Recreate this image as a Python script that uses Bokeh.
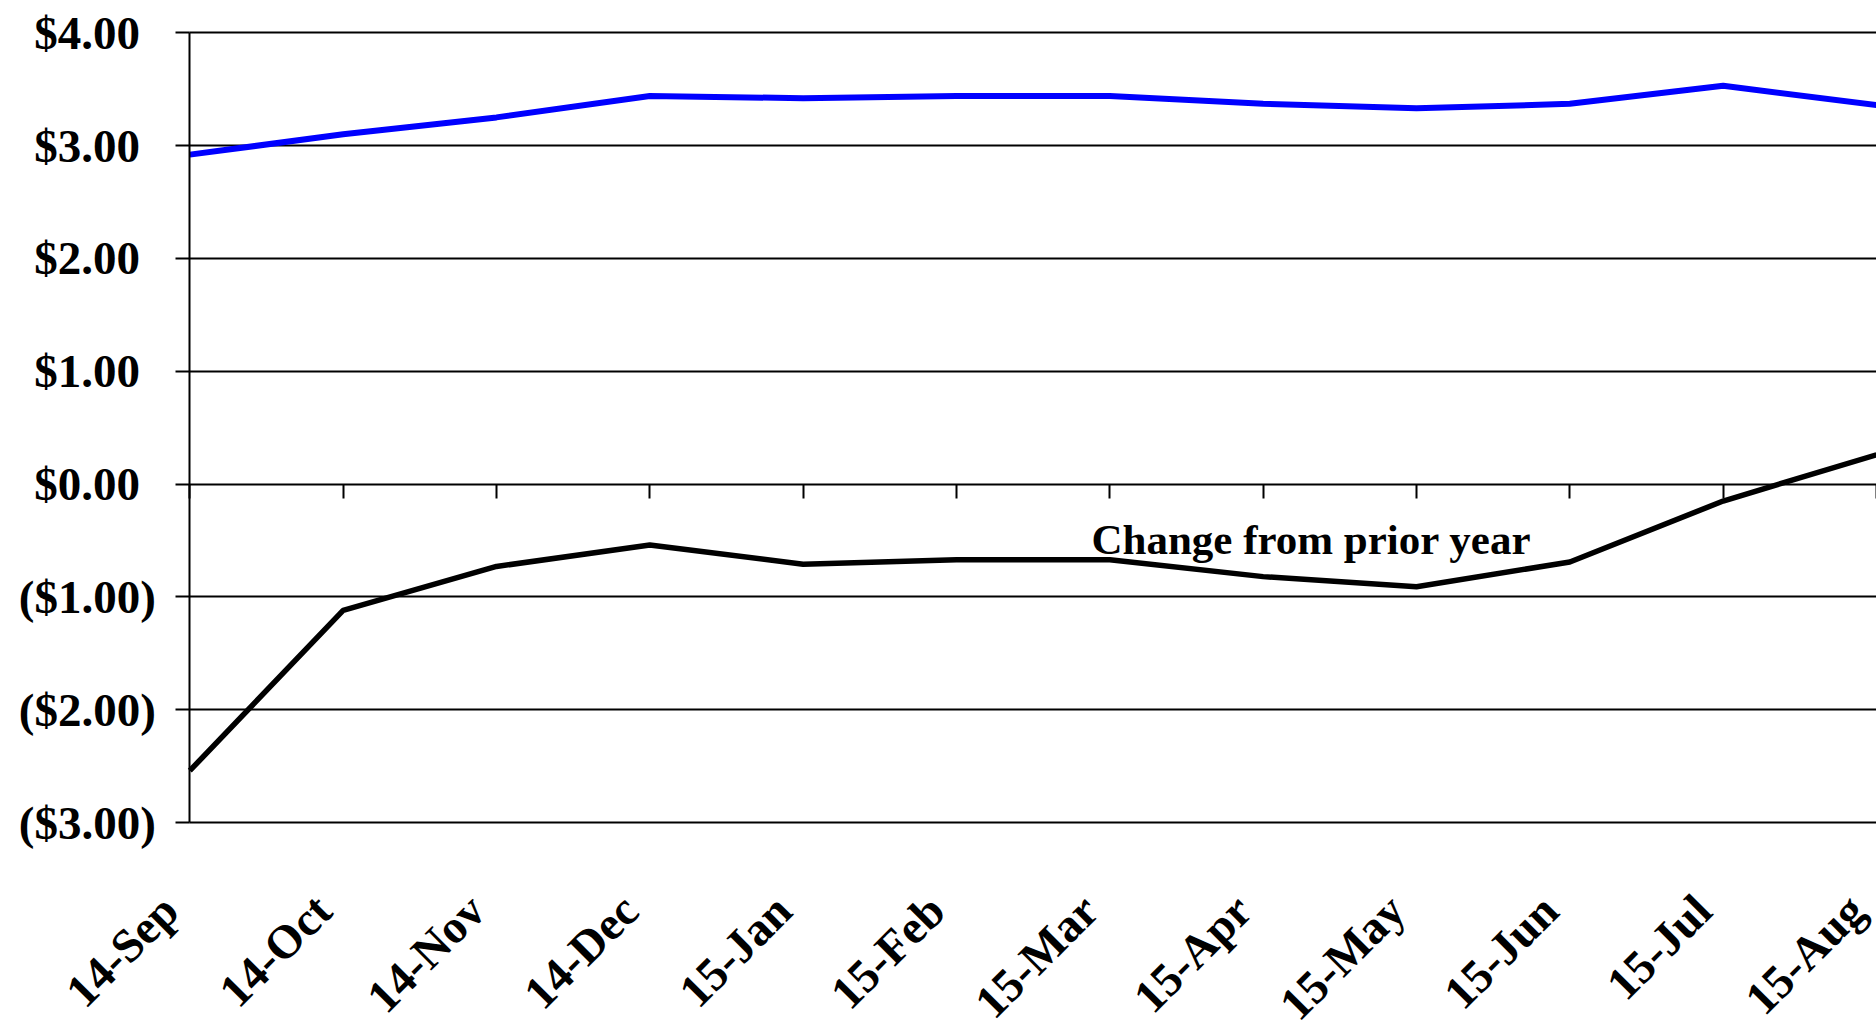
from bokeh.plotting import figure
from bokeh.models import FixedTicker, LinearAxis, Label, Range1d, Grid
from bokeh.embed import file_html
from bokeh.resources import INLINE
from math import pi

# ---- data ----
months = ["14-Sep", "14-Oct", "14-Nov", "14-Dec", "15-Jan", "15-Feb",
          "15-Mar", "15-Apr", "15-May", "15-Jun", "15-Jul", "15-Aug"]
price = [2.92, 3.10, 3.25, 3.44, 3.42, 3.44, 3.44, 3.37, 3.33, 3.37, 3.53, 3.36]
change = [-2.54, -1.12, -0.73, -0.54, -0.71, -0.67, -0.67, -0.82, -0.91, -0.69, -0.15, 0.26]
y_ticks = [-3, -2, -1, 0, 1, 2, 3, 4]
y_tick_labels = ["($3.00)", "($2.00)", "($1.00)", "$0.00\u2004", "$1.00\u2004",
                 "$2.00\u2004", "$3.00\u2004", "$4.00\u2004"]
annotation_text = "Change from prior year"

x = list(range(len(months)))
FONT = "Liberation Serif"

# view: the frame covers the whole page so that the labels of the fixed
# axes are not clipped
x_view_left = -1.2345
y_view_bottom = -4.754
y_view_top = 4.286
label_shift = -0.13   # slides the slanted month labels along their slant

p = figure(width=1876, height=1020, output_backend="svg", toolbar_location=None,
           x_range=Range1d(x_view_left, x[-1]), y_range=Range1d(y_view_bottom, y_view_top),
           x_axis_location=None, y_axis_location=None,
           min_border_left=0, min_border_top=0, min_border_bottom=0, min_border_right=0)
p.outline_line_color = None
p.background_fill_color = "white"
p.border_fill_color = "white"
for g in p.grid:
    g.visible = False

# horizontal grid lines, only across the data area
p.add_layout(Grid(dimension=1, ticker=FixedTicker(ticks=y_ticks),
                  cross_bounds=(x[0], x[-1]),
                  grid_line_color="black", grid_line_width=2))

# y axis
ya = LinearAxis(ticker=FixedTicker(ticks=y_ticks), fixed_location=x[0],
                bounds=(y_ticks[0], y_ticks[-1]))
ya.major_label_overrides = {t: l for t, l in zip(y_ticks, y_tick_labels)}
ya.major_label_text_font = FONT
ya.major_label_text_font_style = "bold"
ya.major_label_text_font_size = "47px"
ya.major_label_text_color = "black"
ya.major_label_standoff = 20
ya.major_tick_out = 14
ya.major_tick_in = 0
ya.minor_tick_line_color = None
ya.axis_line_color = "black"
ya.axis_line_width = 2
ya.major_tick_line_color = "black"
ya.major_tick_line_width = 2
p.add_layout(ya, "left")

# x axis with tick marks on the zero line
tick_axis = LinearAxis(ticker=FixedTicker(ticks=x), fixed_location=0, bounds=(x[0], x[-1]))
tick_axis.major_label_text_font_size = "0px"
tick_axis.major_label_text_alpha = 0
tick_axis.major_tick_out = 14
tick_axis.major_tick_in = 0
tick_axis.major_tick_line_color = "black"
tick_axis.major_tick_line_width = 2
tick_axis.minor_tick_line_color = None
tick_axis.axis_line_color = None
p.add_layout(tick_axis, "below")

# x axis with slanted month labels under the ($3.00) line
label_ticks = [i + label_shift for i in x]
label_axis = LinearAxis(ticker=FixedTicker(ticks=label_ticks), fixed_location=y_ticks[0])
label_axis.major_label_overrides = {t: m for t, m in zip(label_ticks, months)}
label_axis.major_label_orientation = pi / 4
label_axis.major_label_text_font = FONT
label_axis.major_label_text_font_style = "bold"
label_axis.major_label_text_font_size = "47px"
label_axis.major_label_text_color = "black"
label_axis.major_label_standoff = 80
label_axis.major_tick_out = 0
label_axis.major_tick_in = 0
label_axis.major_tick_line_color = None
label_axis.minor_tick_line_color = None
label_axis.axis_line_color = None
p.add_layout(label_axis, "below")

# series
p.line(x, price, line_color="#0000FF", line_width=6)
p.line(x, change, line_color="black", line_width=5.5)

p.add_layout(Label(x=5.88, y=-0.49, text=annotation_text, text_font=FONT,
                   text_font_style="bold", text_font_size="43px",
                   text_color="black", text_baseline="alphabetic", text_align="left"))

open("out.html", "w").write(file_html(p, INLINE))
